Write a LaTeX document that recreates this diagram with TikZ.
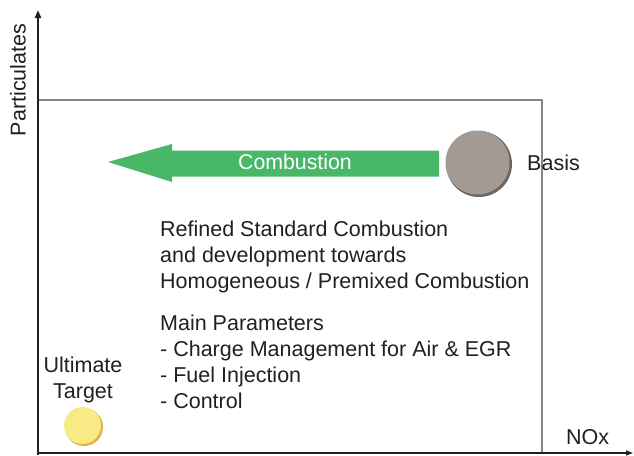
\documentclass[tikz,border=0pt]{standalone}
\usepackage{fontspec}
\setmainfont{Liberation Sans}
\usetikzlibrary{arrows.meta}
\definecolor{axisc}{HTML}{231F20}
\definecolor{framec}{HTML}{8A8580}
\definecolor{arrowg}{HTML}{48B768}
\definecolor{basisc}{HTML}{A39A94}
\definecolor{basissh}{HTML}{6E6660}
\definecolor{targc}{HTML}{F8EB85}
\definecolor{targsh}{HTML}{E0B040}
\definecolor{txtc}{HTML}{231F20}
\begin{document}
\begin{tikzpicture}[x=1pt,y=-1pt,
  lbl/.style={font=\fontsize{21.5}{26}\selectfont, text=txtc, inner sep=0pt},
  axisline/.style={draw=axisc, line width=2pt, -{Triangle[length=8pt,width=6pt]}},
]
\useasboundingbox (0,0) rectangle (634,455);
% frame
\coordinate (fbl) at (38,453);
\coordinate (ftr) at (542,100);
\draw[framec, line width=1.3pt] (fbl) |- (ftr) -- (ftr |- fbl);
% axes
\coordinate (o) at (38,455);
\coordinate (ytop) at (38,10);
\coordinate (o2) at (37,453);
\coordinate (xend) at (633,453);
\draw[framec, line width=1.3pt, -{Triangle[length=7pt,width=5pt]}, draw=axisc] (o2) -- (xend);
\draw[axisline] (o) -- (ytop);
% combustion arrow
\path[fill=arrowg] (108,162) -- (172,144) -- (172,150.5) -- (439,150.5) -- (439,176.5) -- (172,176.5) -- (172,182) -- cycle;
\node[lbl, text=white, font=\fontsize{21.3}{25}\selectfont] (comb) at (295,162) {Combustion};
% basis circle
\fill[basissh] (479,164) circle (33);
\node[circle, fill=basisc, minimum size=64pt, inner sep=0pt] (basis) at (477.5,162.5) {};
\node[lbl, anchor=west] (basislbl) at (527,163) {Basis};
% target circle
\fill[targsh] (84,427) circle (19);
\node[circle, fill=targc, minimum size=37pt, inner sep=0pt] (target) at (82.5,425.5) {};
\node[lbl, align=center, anchor=north] (targlbl) at (83,357) {Ultimate\\Target};
% texts
\node[lbl, align=left, anchor=north west] (refined) at (160,221) {Refined Standard Combustion\\and development towards\\Homogeneous / Premixed Combustion};
\node[lbl, align=left, anchor=north west] (params) at (160,314.5) {Main Parameters\\- Charge Management for Air \& EGR\\- Fuel Injection\\- Control};
\node[lbl, anchor=west] (nox) at (566,437) {NOx};
\node[lbl, rotate=90] (part) at (18,80) {Particulates};
\end{tikzpicture}
\end{document}
